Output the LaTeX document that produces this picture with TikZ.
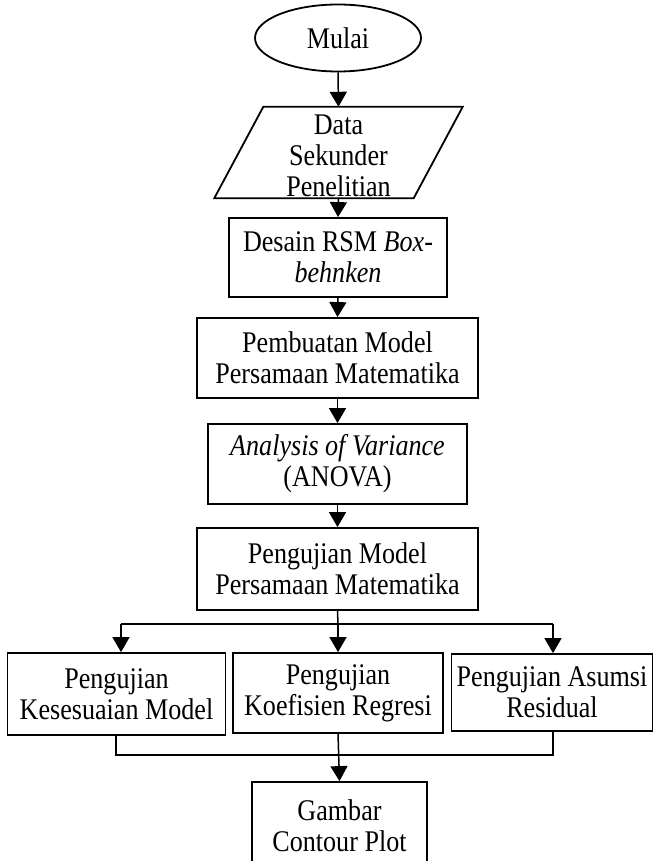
\documentclass[tikz,border=0pt]{standalone}
\usepackage{fontspec}
\setmainfont[FakeStretch=0.87]{Liberation Serif}
\usetikzlibrary{arrows.meta,shapes.geometric}

\begin{document}
\begin{tikzpicture}[x=1pt,y=-1pt,
  every node/.style={font=\fontsize{30}{31}\selectfont, align=center, inner sep=0pt},
  box/.style={draw, line width=1.8pt},
  link/.style={line width=1.5pt},
  flow/.style={link, -{Triangle[length=15pt,width=17pt]}}]
\useasboundingbox (0,0) rectangle (654,861);

% start terminal
\node[ellipse, box, minimum width=166pt, minimum height=67pt] (start) at (338,38) {Mulai};

% input data: parallelogram drawn around an empty frame node, text set slightly low
\node[minimum width=199pt, minimum height=91pt] (data) at (338.5,152.5) {};
\node (datatext) at (338.5,156) {Data\\Sekunder\\Penelitian};
\draw[box] ([xshift=24.5pt]data.north west) -- ([xshift=24.5pt]data.north east)
  -- ([xshift=-24.5pt]data.south east) -- ([xshift=-24.5pt]data.south west) -- cycle;

% process steps
\node[box, minimum width=218pt, minimum height=79pt] (rsm) at (338,257.5) {Desain RSM \textit{Box-}\\\textit{behnken}};
\node[box, minimum width=281pt, minimum height=80pt] (model) at (337.5,358) {Pembuatan Model\\Persamaan Matematika};
\node[box, minimum width=259pt, minimum height=80pt] (anova) at (337.5,464) {\textit{Analysis of Variance}\\(ANOVA)};
\node[box, minimum width=281pt, minimum height=82pt] (uji) at (337.5,569) {Pengujian Model\\Persamaan Matematika};

% three tests
\node[box, minimum width=218pt, minimum height=82pt] (fit) at (116.5,694) {Pengujian\\Kesesuaian Model};
\node[box, minimum width=210pt, minimum height=80pt] (coef) at (338,693) {Pengujian\\Koefisien Regresi};
\node[box, minimum width=201pt, minimum height=77pt] (res) at (552,692.5) {Pengujian Asumsi\\Residual};

% output
\node[box, minimum width=175pt, minimum height=88pt] (plot) at (339.5,826) {Gambar\\Contour Plot};

% main chain
\draw[flow] (start.south) -- (data.north);
\draw[flow] (data.south) -- (rsm.north);
\draw[flow] (rsm.south) -- (model.north);
\draw[flow] (model.south) -- (anova.north);
\draw[flow] (anova.south) -- (uji.north);

% split into the three tests
\coordinate (split) at (338,624);
\coordinate (lsplit) at (121,624);
\coordinate (rsplit) at (553,624);
\draw[link] (uji.south) -- (split);
\draw[link] (lsplit) -- (rsplit);
\draw[flow] (split) -- (coef.north);
\draw[flow] (lsplit) -- (lsplit |- fit.north);
\draw[flow] (rsplit) -- (rsplit |- res.north);

% join towards the contour plot
\coordinate (ljoin) at (116,755);
\coordinate (rjoin) at (553,755);
\draw[link] (ljoin |- fit.south) -- (ljoin) -- (rjoin) -- (rjoin |- res.south);
\draw[flow] (coef.south) -- (plot.north);
\end{tikzpicture}
\end{document}
